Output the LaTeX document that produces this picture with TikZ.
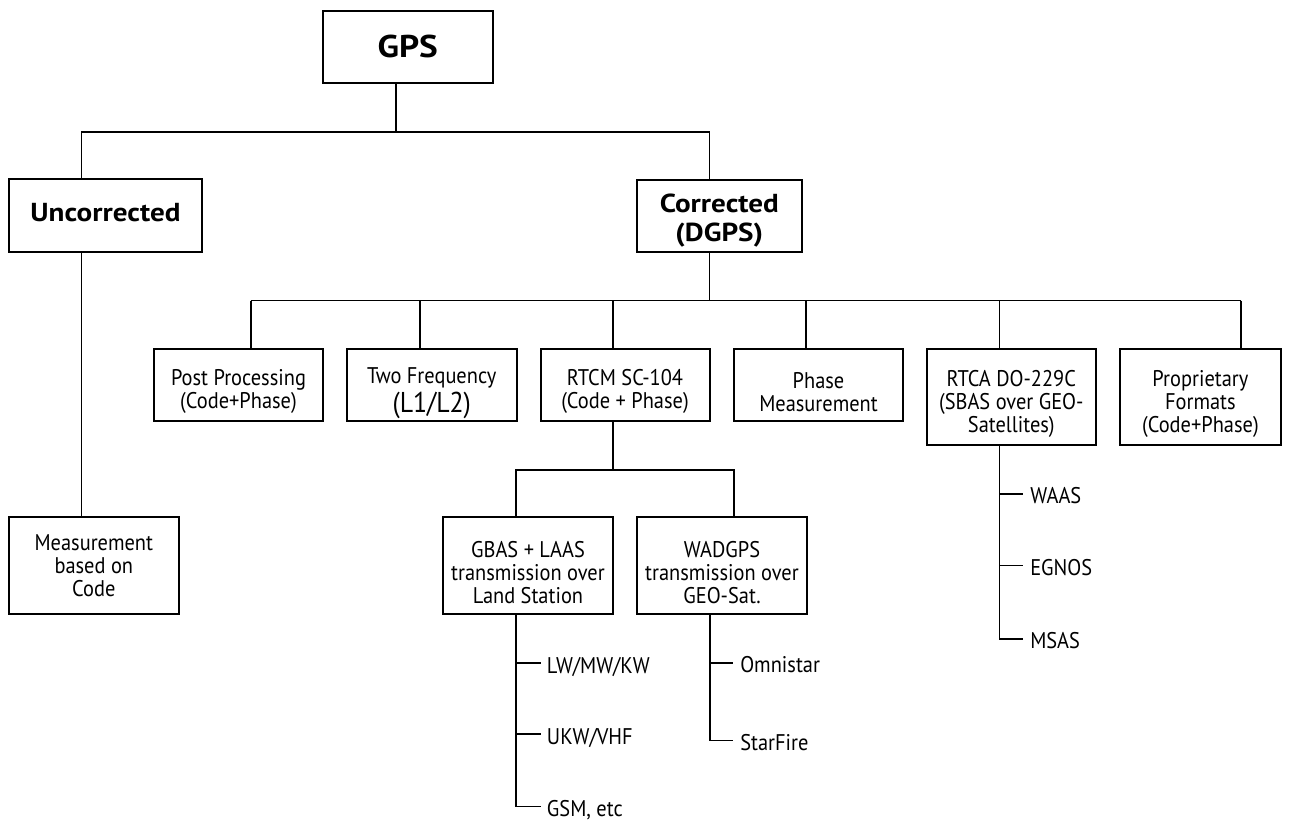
\documentclass[tikz,border=0pt]{standalone}
\usepackage{fontspec}
\setmainfont{PT Sans}[FakeStretch=0.9]
\newfontfamily\boldfont{PT Sans}[FakeStretch=1.12]
\begin{document}
\begin{tikzpicture}[x=0.75pt,y=-0.75pt,
  box/.style={draw, line width=1.5pt, inner sep=0pt},
  sz/.style 2 args={minimum width=#1*0.75pt, minimum height=#2*0.75pt},
  txt/.style={align=center, inner sep=0pt, font=\fontsize{17}{17.2}\selectfont},
  bt/.style={label={[txt, yshift=-5pt]center:{#1}}},
  btx/.style 2 args={label={[txt, yshift=#1]center:{#2}}},
  bold/.style 2 args={label={[align=center, inner sep=0pt, yshift=#1,
      font=\boldfont\bfseries\fontsize{19.5}{21.75}\selectfont]center:{#2}}},
  lbl/.style={inner sep=0pt, anchor=base west, font=\fontsize{17}{20}\selectfont},
  conn/.style={line width=1.2pt}]
\useasboundingbox (0,0) rectangle (1289,822);

% boxes
\node[box, sz={170}{72}, label={[inner sep=0pt, font=\boldfont\bfseries\fontsize{23.6}{26}\selectfont]center:GPS}] (gps) at (407.7,46.8) {};
\node[box, sz={193}{73}, bold={2.5pt}{Uncorrected}] (unc) at (105.5,215.5) {};
\node[box, sz={165}{72}, bold={-3.5pt}{Corrected\\(DGPS)}] (cor) at (719.3,215.8) {};

\node[box, sz={169}{72}, bt={Post Processing\\(Code+Phase)}] (post) at (238.5,385) {};
\node[box, sz={169.5}{72}, btx={-6pt}{Two Frequency\\[2pt]{\fontsize{21.5}{22}\selectfont(L1/L2)}}] (two) at (431.75,385) {};
\node[box, sz={169}{72}, bt={RTCM SC-104\\(Code + Phase)}] (rtcm) at (625,385) {};
\node[box, sz={169}{72}, bt={Phase\\Measurement}] (phase) at (818.5,385) {};
\node[box, sz={169.3}{96}, bt={RTCA DO-229C\\(SBAS over GEO-\\Satellites)}] (rtca) at (1011.3,397.3) {};
\node[box, sz={161}{96}, bt={Proprietary\\Formats\\(Code+Phase)}] (prop) at (1200.4,397.3) {};

\node[box, sz={169.6}{97}, btx={0pt}{Measurement\\based on\\Code}] (meas) at (93.8,565.8) {};
\node[box, sz={169.4}{97}, bt={GBAS + LAAS\\transmission over\\Land Station}] (gbas) at (528,565.8) {};
\node[box, sz={169.4}{97}, bt={WADGPS\\transmission over\\GEO-Sat.}] (wad) at (722,565.8) {};

% level 1 connectors
\coordinate (h1) at (396,132);
\coordinate (ul) at (81.5,132);
\coordinate (ur) at (709.5,132);
\draw[conn] (h1 |- gps.south) -- (h1);
\draw[conn] (ul |- unc.north) -- (ul) -- (ur) -- (ur |- cor.north);
\draw[conn] (ul |- unc.south) -- (ul |- meas.north);

% level 2 connectors
\coordinate (k0) at (709.5,300.5);
\coordinate (d1) at (250.7,300.5);
\coordinate (d2) at (420,300.5);
\coordinate (d3) at (613,300.5);
\coordinate (d4) at (806,300.5);
\coordinate (d5) at (999.3,300.5);
\coordinate (d6) at (1240.7,300.5);
\draw[conn] (k0 |- cor.south) -- (k0);
\draw[conn] (d1) -- (d6);
\draw[conn] (d1) -- (d1 |- post.north);
\draw[conn] (d2) -- (d2 |- two.north);
\draw[conn] (d3) -- (d3 |- rtcm.north);
\draw[conn] (d4) -- (d4 |- phase.north);
\draw[conn] (d5) -- (d5 |- rtca.north);
\draw[conn] (d6) -- (d6 |- prop.north);

% RTCM sub-branches
\coordinate (r0) at (613,470);
\coordinate (g1) at (515.7,470);
\coordinate (g2) at (734,470);
\draw[conn] (r0 |- rtcm.south) -- (r0);
\draw[conn] (g1 |- gbas.north) -- (g1) -- (g2) -- (g2 |- wad.north);

% GBAS list
\coordinate (gv) at (515.7,806.5);
\coordinate (ta1) at (540.7,663);
\coordinate (ta2) at (540.7,734);
\coordinate (ta3) at (540.7,806.5);
\draw[conn] (gv |- gbas.south) -- (gv) -- (ta3);
\draw[conn] (gv |- ta1) -- (ta1);
\draw[conn] (gv |- ta2) -- (ta2);
\node[lbl] (lw) at ([shift={(6,10)}]ta1) {LW/MW/KW};
\node[lbl] (ukw) at ([shift={(6,10)}]ta2) {UKW/VHF};
\node[lbl] (gsm) at ([shift={(6,10)}]ta3) {GSM, etc};

% WADGPS list
\coordinate (wv) at (710,740.3);
\coordinate (tb1) at (733,662.7);
\coordinate (tb2) at (733,740.3);
\draw[conn] (wv |- wad.south) -- (wv) -- (tb2);
\draw[conn] (wv |- tb1) -- (tb1);
\node[lbl] (omni) at ([shift={(7,10)}]tb1) {Omnistar};
\node[lbl] (star) at ([shift={(7,10)}]tb2) {StarFire};

% RTCA list
\coordinate (av) at (999.3,638.7);
\coordinate (tc1) at (1023,493.7);
\coordinate (tc2) at (1023,565.3);
\coordinate (tc3) at (1023,638.7);
\draw[conn] (av |- rtca.south) -- (av) -- (tc3);
\draw[conn] (av |- tc1) -- (tc1);
\draw[conn] (av |- tc2) -- (tc2);
\node[lbl] (waas) at ([shift={(7,10)}]tc1) {WAAS};
\node[lbl] (egnos) at ([shift={(7,10)}]tc2) {EGNOS};
\node[lbl] (msas) at ([shift={(7,10)}]tc3) {MSAS};
\end{tikzpicture}
\end{document}
